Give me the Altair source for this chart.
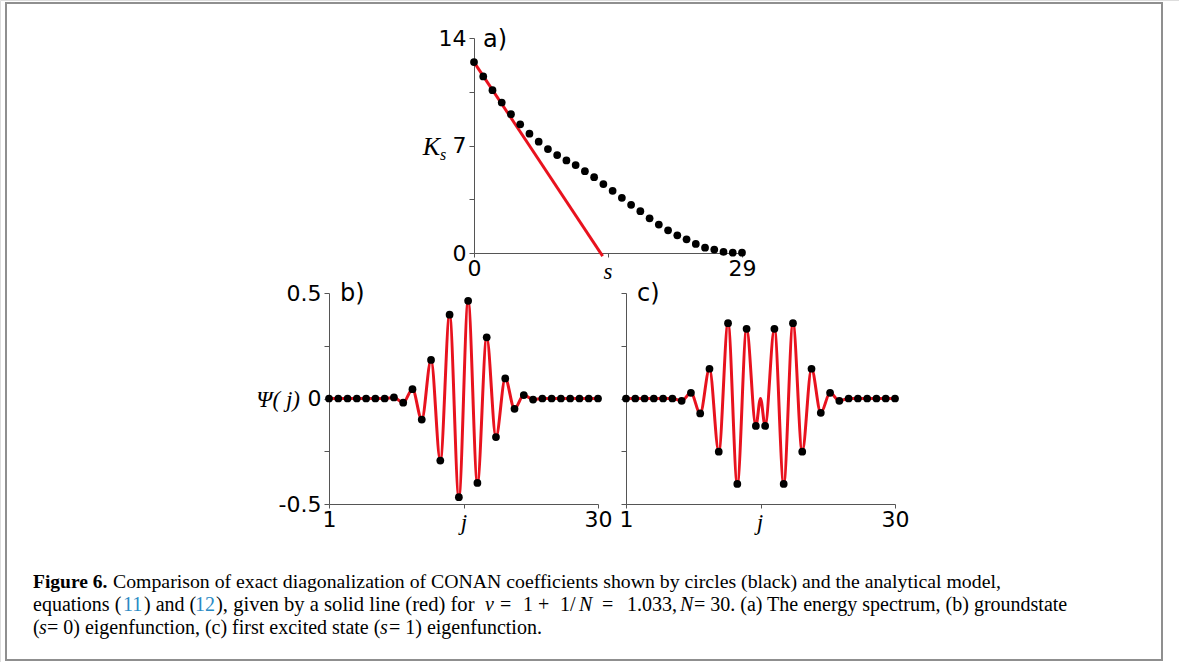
import altair as alt
import pandas as pd

# ---------------- data ----------------
a_s = list(range(30))
a_K = [12.43, 11.50, 10.60, 9.80, 9.04, 8.38, 7.77, 7.25, 6.77, 6.38,
       6.03, 5.73, 5.33, 4.94, 4.49, 4.05, 3.59, 3.14, 2.72, 2.26,
       1.85, 1.48, 1.15, 0.89, 0.59, 0.35, 0.22, 0.07, 0.02, 0.02]
a_line_s = [0, 13.92]
a_line_K = [12.43, -0.2]

b_j = list(range(1, 31))
b_psi = [0, 0, 0, 0, 0, 0, 0, 0.005, -0.02, 0.044, -0.10, 0.183, -0.294, 0.397, -0.468,
         0.463, -0.40, 0.29, -0.183, 0.095, -0.049, 0.016, -0.005, 0, 0, 0, 0, 0, 0, 0]

c_j = list(range(1, 31))
c_psi = [0, 0, 0, 0, 0, 0, -0.011, 0.027, -0.071, 0.141, -0.252, 0.357, -0.405, 0.330, -0.130,
         -0.130, 0.330, -0.405, 0.357, -0.252, 0.141, -0.068, 0.027, -0.011, 0, 0, 0, 0, 0, 0]
c_red_j = list(range(1, 16)) + [15.5] + list(range(16, 31))
c_red_psi = c_psi[:15] + [0.0] + c_psi[15:]

RED = "#e8121e"
BLUE = "#2a8ac4"
SERIF = "Liberation Serif"
SANS = "DejaVu Sans"
W, H = 1179, 662
dummy = pd.DataFrame({"k": [0]})

AXC = dict(grid=False, domainColor="#555555", tickColor="#555555", labelColor="black",
           labelFont=SANS, labelFontSize=22, labelFlush=False, labelOverlap=False, title=None)


def txt(t, x, y, font=SANS, size=20, style="normal", weight="normal", color="black",
        align="left", baseline="middle"):
    return alt.Chart(dummy).mark_text(
        text=t, font=font, fontSize=size, fontStyle=style, fontWeight=weight,
        color=color, align=align, baseline=baseline
    ).encode(x=alt.value(x), y=alt.value(y))


def panel(df_pts, df_red, xf, yf, xdom, ydom, box, xvals, xexpr, yvals, yexpr, interp):
    left, right, top, bottom = box
    x = alt.X(f"{xf}:Q", title=None,
              scale=alt.Scale(domain=xdom, range=[left, right], nice=False, zero=False),
              axis=alt.Axis(orient="bottom", offset=bottom - H, values=xvals, labelExpr=xexpr,
                            tickSize=4, labelPadding=1, **AXC))
    y = alt.Y(f"{yf}:Q", title=None,
              scale=alt.Scale(domain=ydom, range=[bottom, top], nice=False, zero=False),
              axis=alt.Axis(orient="left", offset=-left, values=yvals, labelExpr=yexpr,
                            tickSize=5, labelPadding=3, **AXC))
    red = alt.Chart(df_red).mark_line(color=RED, strokeWidth=3, interpolate=interp,
                                      clip=False).encode(x=x, y=y)
    pts = alt.Chart(df_pts).mark_circle(color="black", size=60, opacity=1).encode(x=x, y=y)
    return alt.layer(red, pts)


# ---------------- panel a ----------------
panel_a = panel(
    pd.DataFrame({"s": a_s, "K": a_K}), pd.DataFrame({"s": a_line_s, "K": a_line_K}),
    "s", "K", [0, 29], [0, 14], (474, 742, 38, 253),
    [0, 14.5, 29], "datum.value == 14.5 ? '' : datum.label",
    [0, 3.5, 7, 10.5, 14], "(datum.value == 3.5 || datum.value == 10.5) ? '' : datum.label",
    "linear")

PSI_LAB = "datum.value == 0.5 ? '0.5' : (datum.value == -0.5 ? '-0.5' : (datum.value == 0 ? '0' : ''))"
panel_b = panel(
    pd.DataFrame({"j": b_j, "psi": b_psi}), pd.DataFrame({"j": b_j, "psi": b_psi}),
    "j", "psi", [1, 30], [-0.5, 0.5], (329, 598, 293, 504),
    [1, 15.5, 30], "datum.value == 15.5 ? '' : datum.label",
    [-0.5, -0.25, 0, 0.25, 0.5], PSI_LAB, "monotone")

panel_c = panel(
    pd.DataFrame({"jc": c_j, "psic": c_psi}), pd.DataFrame({"jc": c_red_j, "psic": c_red_psi}),
    "jc", "psic", [1, 30], [-0.5, 0.5], (626, 895, 293, 504),
    [1, 15.5, 30], "datum.value == 15.5 ? '' : datum.label",
    [-0.5, -0.25, 0, 0.25, 0.5], "''", "monotone")

# ---------------- annotations ----------------
notes = [
    txt("a)", 483, 40, size=24),
    txt("K", 440, 147, font=SERIF, size=26, style="italic", align="right"),
    txt("s", 440, 155, font=SERIF, size=16, style="italic"),
    txt("s", 608, 272, font=SERIF, size=23, style="italic", align="center"),
    txt("b)", 340, 294, size=24),
    txt("c)", 637, 294, size=24),
    txt("\u03a8( j)", 300, 400, font=SERIF, size=23, style="italic", align="right"),
    txt("j", 464, 523, font=SERIF, size=23, style="italic", align="center"),
    txt("j", 760, 523, font=SERIF, size=23, style="italic", align="center"),
]

# ---------------- caption ----------------
FS = 20


def cap(t, x, base, size=FS, **kw):
    return txt(t, x, base, font=SERIF, size=size, baseline="alphabetic", **kw)


L1, L2, L3 = 588, 611, 634
caption = [
    alt.Chart(dummy).mark_rect(fillOpacity=0, stroke="#8f8f8f", strokeWidth=2).encode(
        x=alt.value(6), x2=alt.value(1162), y=alt.value(3), y2=alt.value(660)),
    cap("Figure 6.", 33, L1, size=19.5, weight="bold"),
    cap("Comparison of exact diagonalization of CONAN coefficients shown by circles (black) and the analytical model,", 113, L1, size=19.8),
    cap("equations (", 33, L2),
    cap("11", 123, L2, color=BLUE),
    cap(") and (", 144, L2),
    cap("12", 195, L2, color=BLUE),
    cap("), given by a solid line (red) for", 216, L2, size=20.6),
    cap("\u03bd", 485, L2, style="italic"),
    cap("=", 500, L2),
    cap("1", 523, L2),
    cap("+", 538, L2),
    cap("1/", 560, L2),
    cap("N", 579, L2, style="italic"),
    cap("=", 602, L2),
    cap("1.033,", 627, L2),
    cap("N", 680, L2, style="italic"),
    cap("= 30. (a) The energy spectrum, (b) groundstate", 694, L2),
    cap("(", 33, L3),
    cap("s", 39, L3, style="italic"),
    cap("= 0) eigenfunction, (c) first excited state (", 47, L3),
    cap("s", 380, L3, style="italic"),
    cap("= 1) eigenfunction.", 389, L3),
]

chart = alt.layer(panel_a, panel_b, panel_c, *notes, *caption).resolve_scale(
    x="independent", y="independent"
).resolve_axis(
    x="independent", y="independent"
).properties(
    width=W, height=H, padding=0, autosize=alt.AutoSizeParams(type="none")
).configure_view(stroke="transparent", strokeWidth=0).configure(background="white")

chart.save("out.html", embed_options={"renderer": "svg", "actions": False})
